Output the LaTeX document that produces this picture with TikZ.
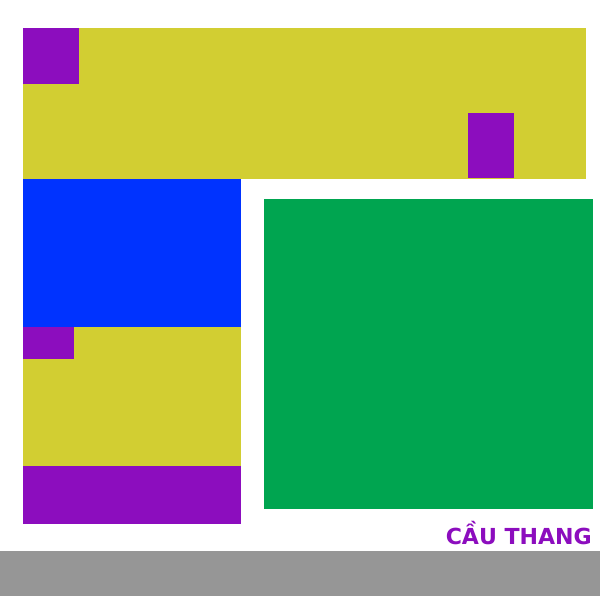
\documentclass[tikz,border=0pt]{standalone}
\usepackage{fontspec}
\setmainfont{DejaVu Sans}
\usepackage{graphicx}
\definecolor{cyel}{HTML}{D2CE32}
\definecolor{cpur}{HTML}{8C0DBE}
\definecolor{cblu}{HTML}{0033FF}
\definecolor{cgrn}{HTML}{00A550}
\definecolor{cgry}{HTML}{969696}
\begin{document}
\begin{tikzpicture}[x=1pt,y=-1pt]
\tikzset{blk/.style={draw=none}}
\useasboundingbox (0,0) rectangle (600,600);
\fill[white] (0,0) rectangle (600,600);
% top yellow band
\fill[cyel,blk] (23,28) rectangle (586,179);
\fill[cpur,blk] (23,28) rectangle (79,84);
\fill[cpur,blk] (468,113) rectangle (514,178);
% left column
\fill[cblu,blk] (23,179) rectangle (241,327);
\fill[cyel,blk] (23,327) rectangle (241,466);
\fill[cpur,blk] (23,327) rectangle (74,359);
\fill[cpur,blk] (23,466) rectangle (241,524);
% green
\fill[cgrn,blk] (264,199) rectangle (593,509);
% gray floor
\fill[cgry,blk] (0,551) rectangle (600,596);
% label
\node[anchor=base east,inner sep=0pt,text=cpur] (lbl) at (592,544) {\resizebox{146pt}{!}{\bfseries CẦU THANG}};
\end{tikzpicture}
\end{document}
